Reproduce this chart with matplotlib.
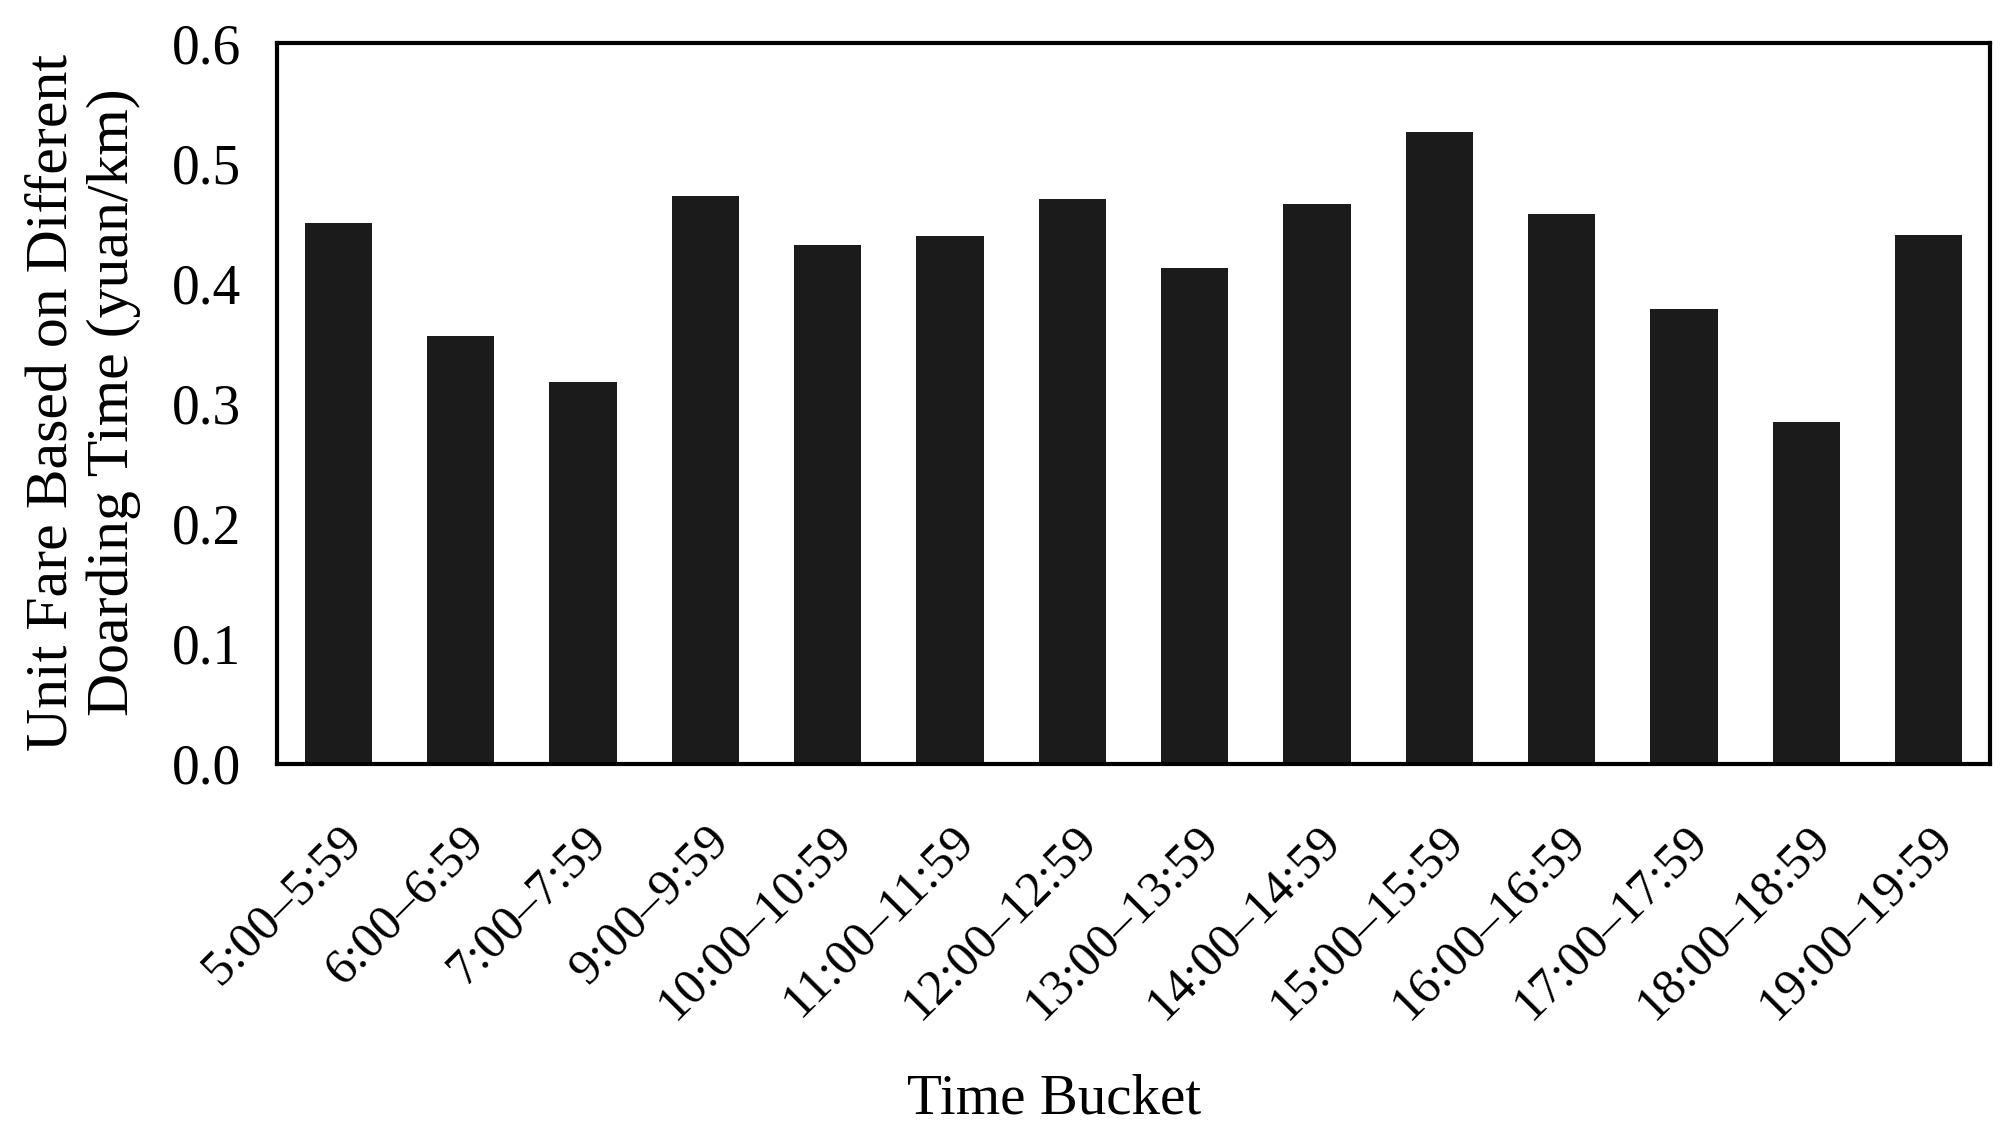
import numpy as np
import matplotlib
matplotlib.use("Agg")
import matplotlib.pyplot as plt

buckets = ['5:00–5:59', '6:00–6:59', '7:00–7:59', '9:00–9:59', '10:00–10:59',
           '11:00–11:59', '12:00–12:59', '13:00–13:59', '14:00–14:59',
           '15:00–15:59', '16:00–16:59', '17:00–17:59', '18:00–18:59',
           '19:00–19:59']
unit_fare = [0.450, 0.356, 0.318, 0.473, 0.432, 0.439, 0.470, 0.413, 0.466,
             0.526, 0.458, 0.379, 0.285, 0.440]
yticks = [0.0, 0.1, 0.2, 0.3, 0.4, 0.5, 0.6]

plt.rcParams['font.family'] = ['Liberation Serif', 'DejaVu Serif']

fig = plt.figure(figsize=(20.08, 11.32), dpi=100)
ax = fig.add_axes([277 / 2008, 1 - 764 / 1132, (1990 - 277) / 2008, (764 - 43) / 1132])

x = np.arange(len(buckets))
ax.bar(x, unit_fare, width=0.55, color='#1b1b1b')
ax.set_xlim(-0.5, len(buckets) - 0.5)
ax.set_ylim(0, 0.6)

ax.set_yticks(yticks)
ax.set_yticklabels([f'{v:.1f}' for v in yticks], fontsize=40)
ax.set_xticks(x)
ax.set_xticklabels(buckets, fontsize=36, rotation=45, ha='right',
                   rotation_mode='anchor')
ax.tick_params(axis='both', length=0)
ax.tick_params(axis='y', pad=26)
ax.tick_params(axis='x', pad=38)

for s in ax.spines.values():
    s.set_linewidth(3)
    s.set_color('black')

fig.text(83 / 2008, 1 - 402 / 1132,
         'Unit Fare Based on Different\nDoarding Time (yuan/km)',
         rotation=90, ha='center', va='center', multialignment='center',
         fontsize=43, linespacing=1.17)
fig.text(1054 / 2008, 1 - 1099 / 1132, 'Time Bucket', ha='center', va='center',
         fontsize=41)

fig.savefig('out.png', dpi=100, facecolor='white')
